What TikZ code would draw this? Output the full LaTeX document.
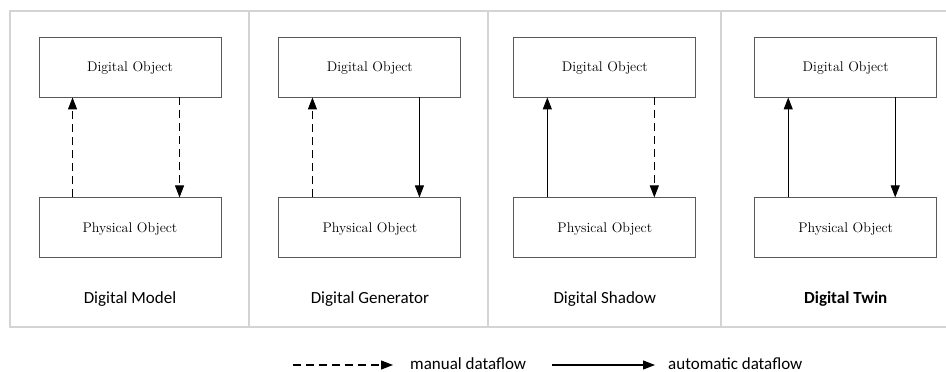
\documentclass[tikz,border=0pt]{standalone}
\usepackage{fontspec}
\newfontfamily\calibri{Carlito}
\usetikzlibrary{matrix}
\usetikzlibrary{arrows.meta}
\usetikzlibrary{positioning}

\begin{document}
\begin{tikzpicture}[x=1pt,y=-1pt,>={Triangle[length=12pt,width=9pt]},
	automatic/.style={->,line width=1.1pt},
	manual/.style={->,line width=1.1pt,dash pattern=on 8pt off 5pt},
	frame/.style={black!17,line width=1.5pt},
	caption/.style={font=\calibri\fontsize{17}{20}\selectfont,inner sep=0pt,text height=12pt,text depth=3.5pt},
	keytext/.style={font=\calibri\fontsize{17}{20}\selectfont,inner sep=0pt,anchor=base west}]
	\useasboundingbox (0,0) rectangle (946,372);
	\draw[frame] (946,11) -| (10,327) -- (946,327);
	\foreach \x in {249,488,721}
		\draw[frame] (\x,11) -- (\x,327);
	\matrix[matrix of nodes,nodes={draw=black!65,line width=0.9pt,minimum width=182pt,minimum height=60pt,inner sep=0pt,font=\fontsize{14}{16}\selectfont,text height=9.8pt,text depth=0pt},row sep=100pt,column sep=52pt,ampersand replacement=\&,matrix anchor=north west] at (35,33)
	{
		|(do1)| Digital Object \&[5pt] |(do2)| Digital Object \& |(do3)| Digital Object \&[6pt] |(do4)| Digital Object \\
		|(po1)| Physical Object \& |(po2)| Physical Object \& |(po3)| Physical Object \& |(po4)| Physical Object \\
	};
	\draw[manual] ([xshift=34pt]po1.north west) -- ([xshift=34pt]do1.south west);
	\draw[manual] ([xshift=141pt]do1.south west) -- ([xshift=141pt]po1.north west);
	\draw[manual] ([xshift=34pt]po2.north west) -- ([xshift=34pt]do2.south west);
	\draw[automatic] ([xshift=141pt]do2.south west) -- ([xshift=141pt]po2.north west);
	\draw[automatic] ([xshift=34pt]po3.north west) -- ([xshift=34pt]do3.south west);
	\draw[manual] ([xshift=141pt]do3.south west) -- ([xshift=141pt]po3.north west);
	\draw[automatic] ([xshift=34pt]po4.north west) -- ([xshift=34pt]do4.south west);
	\draw[automatic] ([xshift=141pt]do4.south west) -- ([xshift=141pt]po4.north west);
	\node[caption,below=33pt of po1] (cap1) {Digital Model};
	\node[caption,below=33pt of po2] (cap2) {Digital Generator};
	\node[caption,below=33pt of po3] (cap3) {Digital Shadow};
	\node[caption,below=33pt of po4] (cap4) {\bfseries Digital Twin};
	\node[keytext] (manualkey) at (410,369) {manual dataflow};
	\node[keytext] (autokey) at (668,369) {automatic dataflow};
	\coordinate (m0) at (293,365);
	\coordinate (m1) at (393,365);
	\coordinate (a0) at (552,365);
	\coordinate (a1) at (655,365);
	\draw[manual] (m0) -- (m1);
	\draw[automatic] (a0) -- (a1);
\end{tikzpicture}
\end{document}
